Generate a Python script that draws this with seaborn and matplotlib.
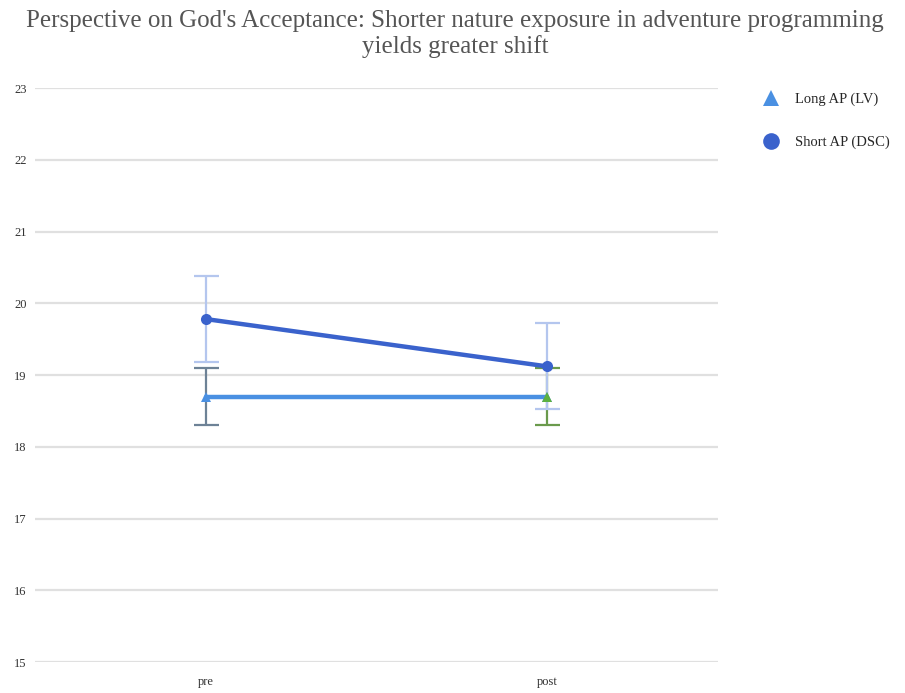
import matplotlib
matplotlib.use("Agg")
import matplotlib.pyplot as plt
from matplotlib.lines import Line2D
import seaborn as sns
import pandas as pd

# Mean scores and error half-widths per timepoint
timepoints = ["pre", "post"]
long_ap = [18.7, 18.7]
long_err = [0.4, 0.4]
short_ap = [19.78, 19.12]
short_err = [0.6, 0.6]
series_names = ["Long AP (LV)", "Short AP (DSC)"]
y_ticks = [15, 16, 17, 18, 19, 20, 21, 22, 23]

df = pd.DataFrame({
    "time": timepoints * 2,
    "score": long_ap + short_ap,
    "group": [series_names[0]] * 2 + [series_names[1]] * 2,
})
df["x"] = df["time"].map({t: i for i, t in enumerate(timepoints)})

sns.set_style("white")
plt.rcParams["font.family"] = ["Liberation Serif", "DejaVu Serif"]

fig = plt.figure(figsize=(9.05, 6.93), dpi=100)
ax = fig.add_axes([0.0387, 0.0447, 0.7546, 0.8283])

long_color = "#4a90e2"
short_color = "#3a62cc"

# Error bars first so the lines sit on top
ax.errorbar([0], [long_ap[0]], yerr=[long_err[0]], fmt="none",
            ecolor="#6d8296", elinewidth=1.6, capsize=9, capthick=1.6, zorder=2)
ax.errorbar([1], [long_ap[1]], yerr=[long_err[1]], fmt="none",
            ecolor="#6a9a4c", elinewidth=1.6, capsize=9, capthick=1.6, zorder=2)
ax.errorbar([0, 1], short_ap, yerr=short_err, fmt="none",
            ecolor="#b4c6ee", elinewidth=1.6, capsize=9, capthick=1.6, zorder=2)

sub = df[df["group"] == series_names[0]]
sns.lineplot(data=sub, x="x", y="score", ax=ax, color=long_color,
             linewidth=3.2, marker="^", markersize=7, markeredgewidth=0,
             legend=False, zorder=3)
ax.plot([1], [long_ap[1]], marker="^", markersize=7, color="#5cb040",
        markeredgewidth=0, zorder=4)
sub = df[df["group"] == series_names[1]]
sns.lineplot(data=sub, x="x", y="score", ax=ax, color=short_color,
             linewidth=3.2, marker="o", markersize=8, markeredgewidth=0,
             legend=False, zorder=4)

ax.set_xlim(-0.5, 1.5)
ax.set_ylim(15, 23)
ax.set_yticks(y_ticks)
ax.set_yticklabels([str(t) for t in y_ticks])
ax.set_xticks(range(len(timepoints)))
ax.set_xticklabels(timepoints)
ax.grid(axis="y", color="#e0e0e0", linewidth=1.6)
ax.set_axisbelow(True)
for s in ax.spines.values():
    s.set_visible(False)
ax.tick_params(axis="both", length=0, labelsize=9, colors="#333333")
ax.tick_params(axis="y", pad=6)
ax.tick_params(axis="x", pad=10)
ax.set_xlabel("")
ax.set_ylabel("")

fig.text(0.503, 0.986,
         "Perspective on God's Acceptance: Shorter nature exposure in adventure programming\nyields greater shift",
         ha="center", va="top", fontsize=18, color="#555555", linespacing=1.2)

handles = [
    Line2D([], [], linestyle="none", marker="^", markersize=11, color=long_color, markeredgewidth=0),
    Line2D([], [], linestyle="none", marker="o", markersize=12, color=short_color, markeredgewidth=0),
]
fig.legend(handles, series_names, loc="upper left", bbox_to_anchor=(0.828, 0.885),
           frameon=False, fontsize=10.5, handletextpad=1.0, labelspacing=2.0,
           handlelength=1.2)

fig.savefig("out.png", dpi=100)
